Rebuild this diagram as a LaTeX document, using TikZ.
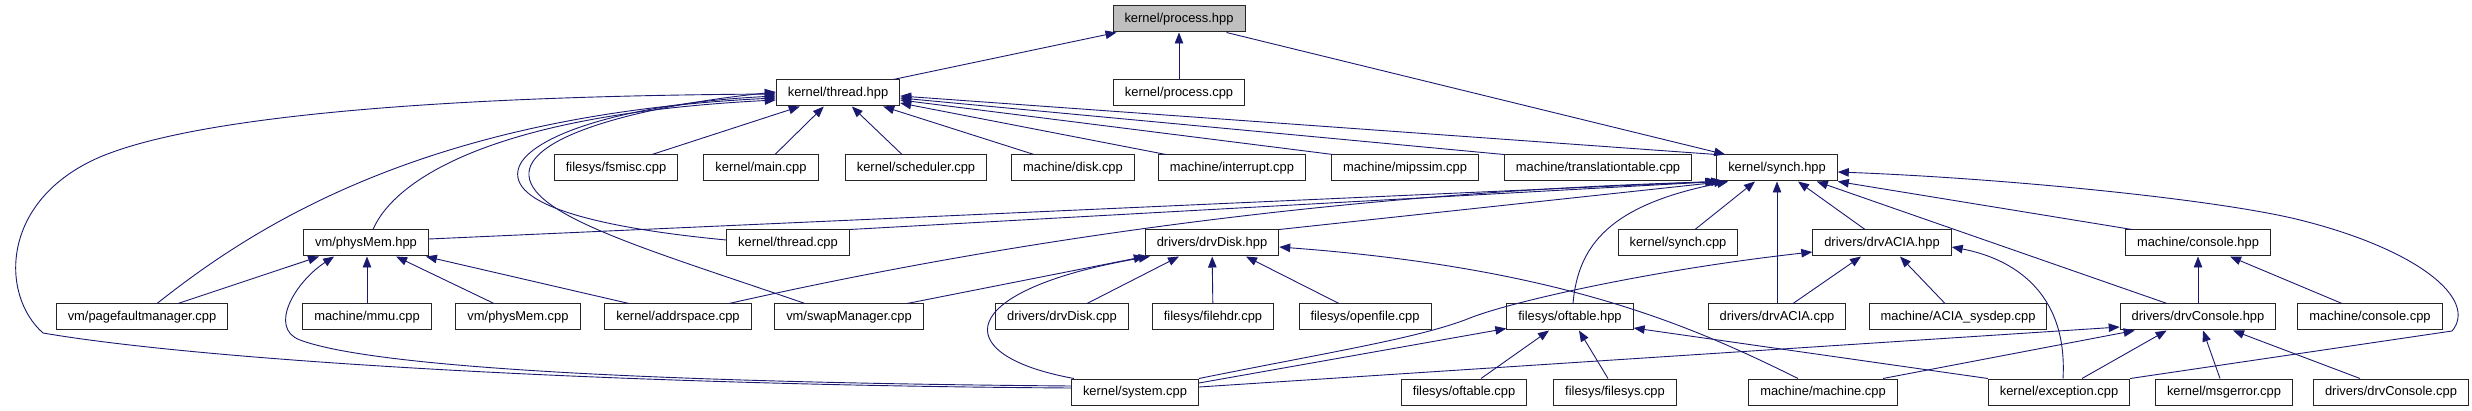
\documentclass[tikz,border=0pt]{standalone}
\usepackage{fontspec}
\setmainfont{Liberation Sans}
\usepackage{xcolor}
\usetikzlibrary{arrows.meta}

\definecolor{edgeblue}{RGB}{25,25,112}
\definecolor{rootgray}{RGB}{191,191,191}

\begin{document}
\begin{tikzpicture}[x=1pt, y=-1pt,
  file/.style={draw=black!85, line width=1pt, fill=white, minimum height=26pt,
    inner xsep=11.5pt, inner ysep=0pt, font=\fontsize{12.9}{15}\selectfont},
  dep/.style={draw=edgeblue, line width=0.9pt, -{Triangle[length=11pt, width=8.5pt]}}]
  % Row heights (pixels of the original graph, y grows downwards)
  \def\rowA{19}
  \def\rowB{93}
  \def\rowC{168}
  \def\rowD{243}
  \def\rowE{317}
  \def\rowF{392}

  \useasboundingbox (0,0) rectangle (2472,411);

  % Files
  \node[file, fill=rootgray] (proch) at (1179,\rowA) {kernel/process.hpp};

  \node[file] (threadh) at (838,\rowB) {kernel/thread.hpp};
  \node[file] (procc) at (1179,\rowB) {kernel/process.cpp};

  \node[file] (fsmisc) at (616,\rowC) {filesys/fsmisc.cpp};
  \node[file] (mainc) at (761,\rowC) {kernel/main.cpp};
  \node[file] (sched) at (916,\rowC) {kernel/scheduler.cpp};
  \node[file] (diskc) at (1073,\rowC) {machine/disk.cpp};
  \node[file] (intr) at (1232,\rowC) {machine/interrupt.cpp};
  \node[file] (mips) at (1405,\rowC) {machine/mipssim.cpp};
  \node[file] (transl) at (1598,\rowC) {machine/translationtable.cpp};
  \node[file] (synchh) at (1777,\rowC) {kernel/synch.hpp};

  \node[file] (physh) at (366,\rowD) {vm/physMem.hpp};
  \node[file] (threadc) at (788,\rowD) {kernel/thread.cpp};
  \node[file] (drvdiskh) at (1212,\rowD) {drivers/drvDisk.hpp};
  \node[file] (synchc) at (1678,\rowD) {kernel/synch.cpp};
  \node[file] (aciah) at (1882,\rowD) {drivers/drvACIA.hpp};
  \node[file] (consh) at (2198,\rowD) {machine/console.hpp};

  \node[file] (pagef) at (142,\rowE) {vm/pagefaultmanager.cpp};
  \node[file] (mmu) at (367,\rowE) {machine/mmu.cpp};
  \node[file] (physc) at (518,\rowE) {vm/physMem.cpp};
  \node[file] (addrsp) at (678,\rowE) {kernel/addrspace.cpp};
  \node[file] (swapc) at (849,\rowE) {vm/swapManager.cpp};
  \node[file] (drvdiskc) at (1062,\rowE) {drivers/drvDisk.cpp};
  \node[file] (filehdr) at (1213,\rowE) {filesys/filehdr.cpp};
  \node[file] (openf) at (1365,\rowE) {filesys/openfile.cpp};
  \node[file] (oftabh) at (1570,\rowE) {filesys/oftable.hpp};
  \node[file] (aciac) at (1777,\rowE) {drivers/drvACIA.cpp};
  \node[file] (aciasys) at (1958,\rowE) {machine/ACIA\_sysdep.cpp};
  \node[file] (drvconh) at (2198,\rowE) {drivers/drvConsole.hpp};
  \node[file] (consc) at (2370,\rowE) {machine/console.cpp};

  \node[file] (systemc) at (1135,\rowF) {kernel/system.cpp};
  \node[file] (oftabc) at (1464,\rowF) {filesys/oftable.cpp};
  \node[file] (filesysc) at (1615,\rowF) {filesys/filesys.cpp};
  \node[file] (machc) at (1823,\rowF) {machine/machine.cpp};
  \node[file] (excc) at (2059,\rowF) {kernel/exception.cpp};
  \node[file] (msgerr) at (2224,\rowF) {kernel/msgerror.cpp};
  \node[file] (drvconc) at (2391,\rowF) {drivers/drvConsole.cpp};

  % Into process.hpp
  \draw[dep] ([xshift=-7pt]threadh.north east) -- ([xshift=4pt]proch.south west);
  \draw[dep] (procc) -- (proch);
  \draw[dep] ([xshift=-19pt]proch.south east) -- ([xshift=9pt]synchh.north west);

  % Into thread.hpp
  \draw[dep] ([xshift=36pt]fsmisc.north) -- ([xshift=24pt]threadh.south west);
  \draw[dep] ([xshift=14pt]mainc.north) -- ([xshift=48pt]threadh.south west);
  \draw[dep] ([xshift=-14pt]sched.north) -- ([xshift=76pt]threadh.south west);
  \draw[dep] ([xshift=-39pt]diskc.north) -- ([xshift=-17pt]threadh.south east);
  \draw[dep] ([xshift=8pt]intr.north west) -- ([yshift=-10pt]threadh.east);
  \draw[dep] ([xshift=2pt]mips.north west) -- ([yshift=-7pt]threadh.east);
  \draw[dep] (transl.north west) -- ([yshift=-5pt]threadh.east);
  \draw[dep] (synchh.north west) -- ([yshift=-3pt]threadh.east);
  \draw[dep] ([xshift=7pt]physh.north) .. controls (392,185) and (480,115) .. ([yshift=-7pt]threadh.west);
  \draw[dep] ([xshift=15pt]pagef.north) .. controls (250,230) and (420,115) .. ([yshift=-5pt]threadh.west);
  \draw[dep] ([yshift=4pt]systemc.west) .. controls (600,385) and (200,360) .. (43,333)
    .. controls (0,295) and (0,200) .. (100,157) .. controls (200,115) and (450,96) .. ([yshift=-1pt]threadh.west);
  \draw[dep] ([yshift=3pt]threadc.west) .. controls (600,228) and (505,205) .. (519,167)
    .. controls (530,137) and (620,104) .. ([yshift=-3pt]threadh.west);
  \draw[dep] ([xshift=-44pt]swapc.north) .. controls (650,250) and (525,215) .. (529,172)
    .. controls (533,135) and (640,106) .. ([yshift=1pt]threadh.west);

  % Into physMem.hpp
  \draw[dep] ([xshift=36pt]pagef.north) -- ([xshift=16pt]physh.south west);
  \draw[dep] (mmu.north) -- (mmu.north |- physh.south);
  \draw[dep] ([xshift=-24pt]physc.north) -- ([xshift=93pt]physh.south west);
  \draw[dep] ([xshift=-49pt]addrsp.north) -- ([xshift=-3pt]physh.south east);
  \draw[dep] ([yshift=6pt]systemc.west) .. controls (700,383) and (380,370) .. (300,340)
    .. controls (268,328) and (295,282) .. ([xshift=31pt]physh.south west);

  % Into synch.hpp
  \draw[dep] ([yshift=4pt]physh.east) -- (synchh.south west);
  \draw[dep] (threadc.north east) -- ([xshift=2pt]synchh.south west);
  \draw[dep] ([xshift=51pt]addrsp.north) .. controls (900,265) and (1250,195) .. ([xshift=6pt]synchh.south west);
  \draw[dep] (drvdiskh.north east) -- ([xshift=9pt]synchh.south west);
  \draw[dep] ([xshift=3pt]oftabh.north) .. controls (1578,245) and (1610,205) .. ([xshift=12pt]synchh.south west);
  \draw[dep] ([xshift=17pt]synchc.north) -- ([xshift=-22pt]synchh.south);
  \draw[dep] (aciac) -- (synchh);
  \draw[dep] ([xshift=-17pt]aciah.north) -- ([xshift=21pt]synchh.south);
  \draw[dep] ([xshift=-31pt]drvconh.north) -- ([xshift=-21pt]synchh.south east);
  \draw[dep] ([xshift=7pt]consh.north west) -- (synchh.south east);
  \draw[dep] (excc.north east) -- (2452,331) .. controls (2478,300) and (2420,250) .. (2300,220)
    .. controls (2216,199) and (2000,178) .. ([yshift=-4pt]synchh.east);

  % Into drvDisk.hpp
  \draw[dep] ([xshift=58pt]swapc.north) -- (drvdiskh.south west);
  \draw[dep] ([xshift=3pt]systemc.north west) .. controls (945,355) and (955,290) .. ([xshift=5pt]drvdiskh.south west);
  \draw[dep] ([xshift=25pt]drvdiskc.north) -- ([xshift=-33pt]drvdiskh.south);
  \draw[dep] (filehdr) -- (drvdiskh);
  \draw[dep] ([xshift=-26pt]openf.north) -- ([xshift=34pt]drvdiskh.south);
  \draw[dep] ([xshift=-25pt]machc.north) .. controls (1690,325) and (1560,268) .. ([yshift=-4pt]drvdiskh.east);

  % Into oftable.hpp
  \draw[dep] ([yshift=9pt]systemc.east) -- ([yshift=2pt]oftabh.south west);
  \draw[dep] ([xshift=17pt]oftabc.north) -- ([xshift=-21pt]oftabh.south);
  \draw[dep] ([xshift=-7pt]filesysc.north) -- ([xshift=9pt]oftabh.south);
  \draw[dep] (excc.north west) -- ([yshift=-11pt]oftabh.east);

  % Into drvACIA.hpp
  \draw[dep] ([xshift=16pt]aciac.north) -- ([xshift=-21pt]aciah.south);
  \draw[dep] ([xshift=-13pt]aciasys.north) -- ([xshift=18pt]aciah.south);
  \draw[dep] (systemc.north east) .. controls (1330,352) and (1420,338) .. (1470,318)
    .. controls (1510,302) and (1650,270) .. ([yshift=-9pt]aciah.west);
  \draw[dep] ([xshift=4pt]excc.north) .. controls (2068,290) and (2010,258) .. ([yshift=-4pt]aciah.east);

  % Into the console headers
  \draw[dep] ([yshift=5pt]systemc.east) -- ([yshift=-10pt]drvconh.west);
  \draw[dep] ([xshift=60pt]machc.north) -- ([xshift=15pt]drvconh.south west);
  \draw[dep] ([xshift=23pt]excc.north) -- ([xshift=47pt]drvconh.south west);
  \draw[dep] ([xshift=-4pt]msgerr.north) -- ([xshift=5pt]drvconh.south);
  \draw[dep] ([xshift=-31pt]drvconc.north) -- ([xshift=35pt]drvconh.south);
  \draw[dep] (drvconh) -- (consh);
  \draw[dep] ([xshift=-28pt]consc.north) -- ([xshift=32pt]consh.south);

\end{tikzpicture}
\end{document}
